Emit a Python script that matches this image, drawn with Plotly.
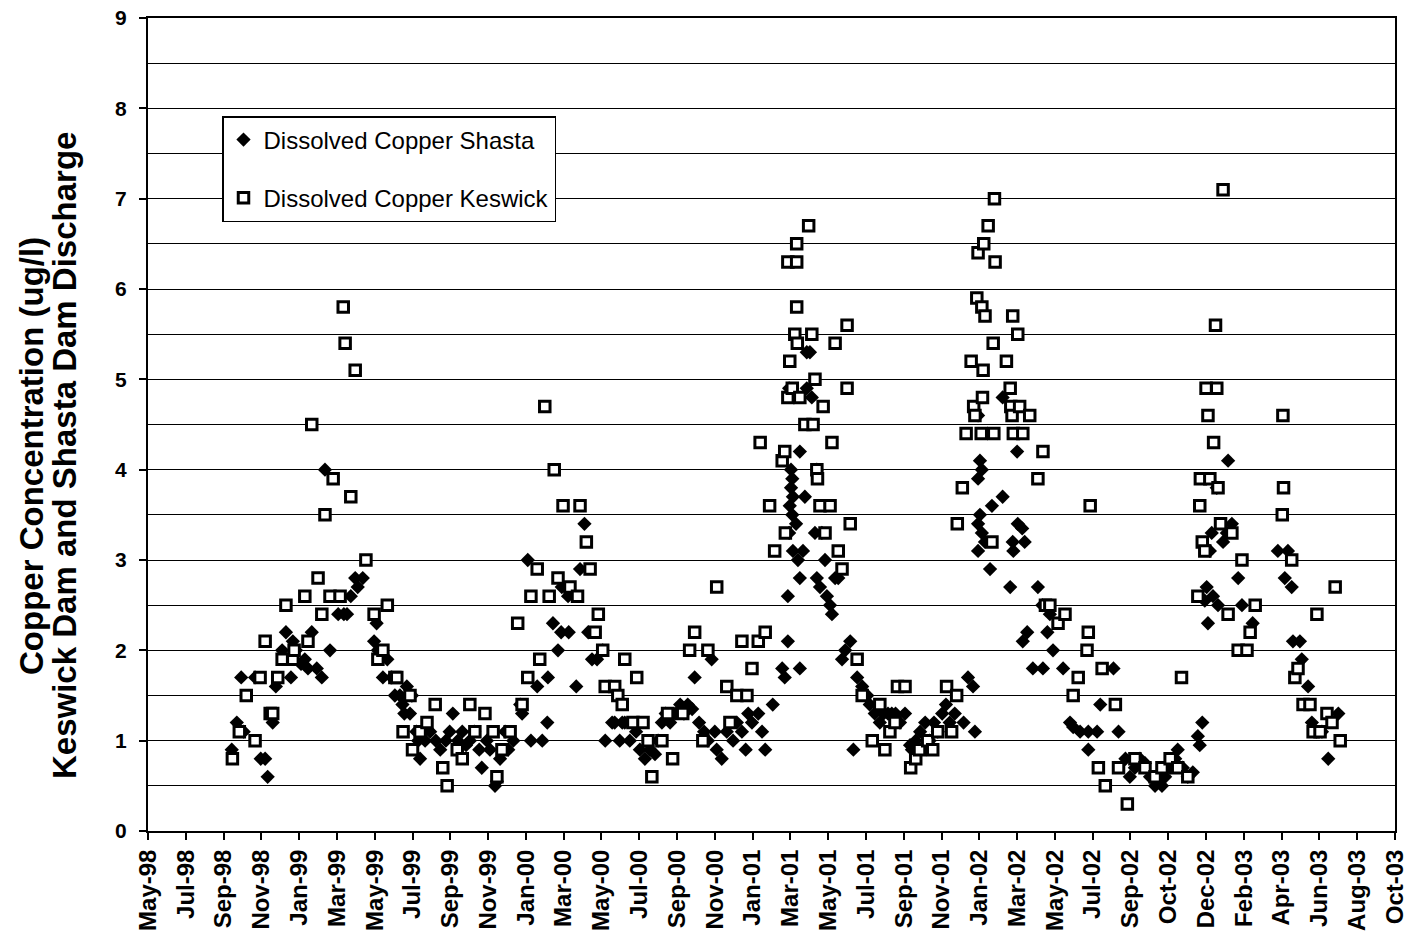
import plotly.graph_objects as go

# ---------------- data ----------------
shasta_dates = [
    "1998-10-05", "1998-10-13", "1998-10-20", "1998-10-24", "1998-11-11", "1998-11-20", "1998-11-27", "1998-12-01", "1998-12-09", "1998-12-14",
    "1998-12-24", "1998-12-30", "1999-01-07", "1999-01-10", "1999-01-15", "1999-01-23", "1999-01-29", "1999-02-03", "1999-02-09", "1999-02-17",
    "1999-02-25", "1999-03-02", "1999-03-10", "1999-03-23", "1999-04-01", "1999-04-06", "1999-04-12", "1999-04-19", "1999-04-23", "1999-05-01",
    "1999-05-19", "1999-05-23", "1999-05-25", "1999-06-02", "1999-06-09", "1999-06-16", "1999-06-21", "1999-06-29", "1999-07-03", "1999-07-06",
    "1999-07-10", "1999-07-15", "1999-07-18", "1999-07-25", "1999-07-28", "1999-07-31", "1999-08-08", "1999-08-16", "1999-08-25", "1999-09-01",
    "1999-09-10", "1999-09-16", "1999-09-21", "1999-09-29", "1999-10-06", "1999-10-12", "1999-10-18", "1999-10-25", "1999-11-02", "1999-11-06",
    "1999-11-14", "1999-11-19", "1999-11-27", "1999-11-30", "1999-12-05", "1999-12-13", "1999-12-18", "1999-12-26", "2000-01-06", "2000-01-09",
    "2000-01-18", "2000-01-23", "2000-02-02", "2000-02-10", "2000-02-18", "2000-02-19", "2000-02-27", "2000-03-06", "2000-03-11", "2000-03-12",
    "2000-03-22", "2000-03-23", "2000-04-04", "2000-04-10", "2000-04-17", "2000-04-23", "2000-04-29", "2000-05-07", "2000-05-16", "2000-05-20",
    "2000-05-31", "2000-06-04", "2000-06-12", "2000-06-16", "2000-06-20", "2000-06-28", "2000-07-08", "2000-07-14", "2000-07-22", "2000-07-30",
    "2000-08-07", "2000-08-12", "2000-08-18", "2000-08-24", "2000-08-31", "2000-09-08", "2000-09-16", "2000-09-22", "2000-09-28", "2000-10-05",
    "2000-10-09", "2000-10-16", "2000-10-24", "2000-10-30", "2000-11-05", "2000-11-10", "2000-11-13", "2000-11-21", "2000-11-29", "2000-12-09",
    "2000-12-15", "2000-12-23", "2000-12-29", "2001-01-02", "2001-01-08", "2001-01-18", "2001-01-24", "2001-01-29", "2001-02-10", "2001-02-25",
    "2001-03-01", "2001-03-06", "2001-03-06", "2001-03-08", "2001-03-08", "2001-03-09", "2001-03-11", "2001-03-11", "2001-03-13", "2001-03-13",
    "2001-03-14", "2001-03-14", "2001-03-19", "2001-03-22", "2001-03-25", "2001-03-25", "2001-03-25", "2001-03-30", "2001-04-02", "2001-04-05",
    "2001-04-05", "2001-04-10", "2001-04-13", "2001-04-18", "2001-04-21", "2001-04-21", "2001-04-26", "2001-04-29", "2001-05-04", "2001-05-07",
    "2001-05-12", "2001-05-15", "2001-05-20", "2001-05-25", "2001-05-31", "2001-06-05", "2001-06-13", "2001-06-18", "2001-06-24", "2001-07-02",
    "2001-07-10", "2001-07-14", "2001-07-22", "2001-07-30", "2001-08-05", "2001-08-12", "2001-08-18", "2001-08-24", "2001-08-31", "2001-09-08",
    "2001-09-16", "2001-09-19", "2001-09-25", "2001-10-02", "2001-10-10", "2001-10-17", "2001-10-24", "2001-10-30", "2001-11-06", "2001-11-12",
    "2001-11-18", "2001-11-26", "2001-12-10", "2001-12-17", "2001-12-25", "2001-12-28", "2002-01-02", "2002-01-02", "2002-01-02", "2002-01-02",
    "2002-01-05", "2002-01-05", "2002-01-08", "2002-01-08", "2002-01-13", "2002-01-21", "2002-01-24", "2002-02-10", "2002-02-10", "2002-02-22",
    "2002-02-26", "2002-02-27", "2002-03-05", "2002-03-06", "2002-03-13", "2002-03-14", "2002-03-17", "2002-03-21", "2002-03-30", "2002-04-07",
    "2002-04-14", "2002-04-15", "2002-04-22", "2002-04-26", "2002-05-01", "2002-05-17", "2002-05-28", "2002-06-02", "2002-06-13", "2002-06-26",
    "2002-06-26", "2002-07-10", "2002-07-15", "2002-08-05", "2002-08-13", "2002-08-24", "2002-08-31", "2002-09-08", "2002-09-16", "2002-09-24",
    "2002-10-02", "2002-10-10", "2002-10-14", "2002-10-21", "2002-10-26", "2002-11-03", "2002-11-11", "2002-11-15", "2002-11-23", "2002-12-01",
    "2002-12-09", "2002-12-17", "2002-12-20", "2002-12-24", "2002-12-28", "2002-12-31", "2003-01-02", "2003-01-05", "2003-01-08", "2003-01-10",
    "2003-01-16", "2003-01-18", "2003-01-26", "2003-02-01", "2003-02-03", "2003-02-09", "2003-02-19", "2003-02-25", "2003-03-14", "2003-04-23",
    "2003-05-04", "2003-05-09", "2003-05-15", "2003-05-17", "2003-05-28", "2003-05-31", "2003-06-10", "2003-06-16", "2003-06-23", "2003-07-02",
    "2003-07-12", "2003-07-28",
]
shasta_values = [
    0.9, 1.2, 1.7, 1.1, 1.7, 0.8, 0.8, 0.6, 1.2, 1.6,
    2.0, 2.2, 1.7, 2.1, 2.0, 1.85, 1.9, 1.8, 2.2, 1.8,
    1.7, 4.0, 2.0, 2.4, 2.4, 2.4, 2.6, 2.8, 2.7, 2.8,
    2.1, 2.3, 2.0, 1.7, 1.9, 1.7, 1.5, 1.5, 1.4, 1.3,
    1.6, 1.3, 1.5, 1.1, 1.0, 0.8, 1.0, 1.1, 1.0, 0.9,
    1.0, 1.1, 1.3, 1.0, 1.1, 0.95, 1.0, 1.1, 0.9, 0.7,
    1.0, 0.9, 0.5, 0.55, 0.8, 1.1, 0.9, 1.0, 1.4, 1.3,
    3.0, 1.0, 1.6, 1.0, 1.2, 1.7, 2.3, 2.0, 2.2, 2.7,
    2.6, 2.2, 1.6, 2.9, 3.4, 2.2, 1.9, 1.9, 2.0, 1.0,
    1.2, 1.2, 1.0, 1.2, 1.2, 1.0, 1.1, 0.9, 0.8, 0.9,
    0.85, 1.0, 1.2, 1.3, 1.2, 1.3, 1.4, 1.3, 1.4, 1.35,
    1.7, 1.2, 1.1, 1.0, 1.9, 1.1, 0.9, 0.8, 1.1, 1.0,
    1.2, 1.1, 0.9, 1.3, 1.2, 1.3, 1.1, 0.9, 1.4, 1.8,
    1.7, 2.1, 2.6, 4.9, 3.3, 3.6, 4.0, 3.8, 3.9, 3.5,
    3.7, 3.1, 3.4, 3.0, 2.8, 4.2, 1.8, 3.1, 3.7, 4.9,
    5.3, 5.3, 4.8, 3.3, 4.0, 2.8, 2.7, 3.3, 3.0, 2.6,
    2.5, 2.4, 2.8, 2.8, 1.9, 2.0, 2.1, 0.9, 1.7, 1.6,
    1.5, 1.4, 1.3, 1.2, 1.3, 1.3, 1.3, 1.3, 1.2, 1.3,
    0.95, 0.9, 1.0, 1.1, 1.2, 1.0, 1.2, 1.1, 1.3, 1.4,
    1.2, 1.3, 1.2, 1.7, 1.6, 1.1, 4.6, 3.9, 3.4, 3.1,
    4.1, 3.5, 4.0, 3.3, 3.2, 2.9, 3.6, 3.7, 4.8, 2.7,
    3.2, 3.1, 4.2, 3.4, 3.35, 2.1, 3.2, 2.2, 1.8, 2.7,
    2.5, 1.8, 2.2, 2.4, 2.0, 1.8, 1.2, 1.15, 1.1, 1.1,
    0.9, 1.1, 1.4, 1.8, 1.1, 0.8, 0.6, 0.7, 0.8, 0.75,
    0.6, 0.5, 0.55, 0.5, 0.6, 0.7, 0.8, 0.9, 0.7, 0.6,
    0.65, 1.05, 0.95, 1.2, 2.55, 2.7, 2.3, 3.1, 3.3, 2.6,
    3.8, 2.5, 3.2, 3.3, 4.1, 3.4, 2.8, 2.5, 2.3, 3.1,
    2.8, 3.1, 2.7, 2.1, 2.1, 1.9, 1.6, 1.2, 1.1, 1.1,
    0.8, 1.3,
]

keswick_dates = [
    "1998-10-06", "1998-10-17", "1998-10-28", "1998-11-11", "1998-11-19", "1998-11-27", "1998-12-05", "1998-12-09", "1998-12-17", "1998-12-24",
    "1998-12-30", "1999-01-10", "1999-01-12", "1999-01-29", "1999-02-03", "1999-02-09", "1999-02-19", "1999-02-25", "1999-03-02", "1999-03-10",
    "1999-03-15", "1999-03-26", "1999-03-31", "1999-04-03", "1999-04-12", "1999-04-19", "1999-05-06", "1999-05-19", "1999-05-25", "1999-06-02",
    "1999-06-09", "1999-06-21", "1999-06-24", "1999-07-04", "1999-07-15", "1999-07-19", "1999-07-31", "1999-08-11", "1999-08-24", "1999-09-05",
    "1999-09-12", "1999-09-28", "1999-10-06", "1999-10-18", "1999-10-26", "1999-11-11", "1999-11-24", "1999-11-30", "1999-12-08", "1999-12-21",
    "2000-01-02", "2000-01-09", "2000-01-18", "2000-01-23", "2000-02-02", "2000-02-06", "2000-02-14", "2000-02-21", "2000-02-29", "2000-03-06",
    "2000-03-14", "2000-03-25", "2000-04-06", "2000-04-10", "2000-04-20", "2000-04-26", "2000-05-04", "2000-05-09", "2000-05-16", "2000-05-20",
    "2000-06-04", "2000-06-09", "2000-06-16", "2000-06-20", "2000-07-03", "2000-07-09", "2000-07-19", "2000-07-27", "2000-08-02", "2000-08-18",
    "2000-08-27", "2000-09-04", "2000-09-20", "2000-10-01", "2000-10-09", "2000-10-22", "2000-10-30", "2000-11-13", "2000-11-29", "2000-12-04",
    "2000-12-15", "2000-12-23", "2000-12-31", "2001-01-08", "2001-01-18", "2001-01-21", "2001-01-29", "2001-02-05", "2001-02-13", "2001-02-25",
    "2001-03-01", "2001-03-02", "2001-03-06", "2001-03-06", "2001-03-09", "2001-03-13", "2001-03-17", "2001-03-20", "2001-03-20", "2001-03-20",
    "2001-03-21", "2001-03-25", "2001-04-02", "2001-04-08", "2001-04-13", "2001-04-15", "2001-04-18", "2001-04-21", "2001-04-22", "2001-04-26",
    "2001-05-01", "2001-05-04", "2001-05-12", "2001-05-15", "2001-05-20", "2001-05-25", "2001-05-31", "2001-06-08", "2001-06-08", "2001-06-13",
    "2001-06-24", "2001-07-02", "2001-07-18", "2001-07-30", "2001-08-07", "2001-08-15", "2001-08-23", "2001-08-27", "2001-09-08", "2001-09-17",
    "2001-09-25", "2001-10-01", "2001-10-14", "2001-10-22", "2001-10-30", "2001-11-13", "2001-11-21", "2001-11-29", "2001-11-30", "2001-12-08",
    "2001-12-14", "2001-12-22", "2001-12-26", "2001-12-28", "2001-12-31", "2002-01-02", "2002-01-07", "2002-01-08", "2002-01-09", "2002-01-10",
    "2002-01-11", "2002-01-13", "2002-01-18", "2002-01-24", "2002-01-26", "2002-01-27", "2002-01-28", "2002-01-29", "2002-02-16", "2002-02-22",
    "2002-02-23", "2002-02-25", "2002-02-26", "2002-02-27", "2002-03-06", "2002-03-09", "2002-03-14", "2002-03-25", "2002-04-07", "2002-04-15",
    "2002-04-19", "2002-04-26", "2002-05-09", "2002-05-20", "2002-06-02", "2002-06-10", "2002-06-24", "2002-06-26", "2002-06-29", "2002-07-12",
    "2002-07-18", "2002-07-23", "2002-08-08", "2002-08-13", "2002-08-27", "2002-09-08", "2002-09-24", "2002-10-10", "2002-10-21", "2002-11-03",
    "2002-11-15", "2002-11-21", "2002-12-01", "2002-12-17", "2002-12-20", "2002-12-21", "2002-12-24", "2002-12-28", "2002-12-30", "2003-01-02",
    "2003-01-05", "2003-01-11", "2003-01-14", "2003-01-16", "2003-01-18", "2003-01-22", "2003-01-26", "2003-02-03", "2003-02-09", "2003-02-19",
    "2003-02-25", "2003-03-05", "2003-03-10", "2003-03-18", "2003-04-30", "2003-05-01", "2003-05-02", "2003-05-15", "2003-05-20", "2003-05-25",
    "2003-06-02", "2003-06-13", "2003-06-18", "2003-06-24", "2003-06-29", "2003-07-10", "2003-07-18", "2003-07-23", "2003-07-31",
]
keswick_values = [
    0.8, 1.1, 1.5, 1.0, 1.7, 2.1, 1.3, 1.3, 1.7, 1.9,
    2.5, 1.9, 2.0, 2.6, 2.1, 4.5, 2.8, 2.4, 3.5, 2.6,
    3.9, 2.6, 5.8, 5.4, 3.7, 5.1, 3.0, 2.4, 1.9, 2.0,
    2.5, 1.7, 1.7, 1.1, 1.5, 0.9, 1.1, 1.2, 1.4, 0.7,
    0.5, 0.9, 0.8, 1.4, 1.1, 1.3, 1.1, 0.6, 0.9, 1.1,
    2.3, 1.4, 1.7, 2.6, 2.9, 1.9, 4.7, 2.6, 4.0, 2.8,
    3.6, 2.7, 2.6, 3.6, 3.2, 2.9, 2.2, 2.4, 2.0, 1.6,
    1.6, 1.5, 1.4, 1.9, 1.2, 1.7, 1.2, 1.0, 0.6, 1.0,
    1.3, 0.8, 1.3, 2.0, 2.2, 1.0, 2.0, 2.7, 1.6, 1.2,
    1.5, 2.1, 1.5, 1.8, 2.1, 4.3, 2.2, 3.6, 3.1, 4.1,
    4.2, 3.3, 4.8, 6.3, 5.2, 4.9, 5.5, 6.5, 6.3, 5.8,
    5.4, 4.8, 4.5, 6.7, 5.5, 4.5, 5.0, 4.0, 3.9, 3.6,
    4.7, 3.3, 3.6, 4.3, 5.4, 3.1, 2.9, 5.6, 4.9, 3.4,
    1.9, 1.5, 1.0, 1.4, 0.9, 1.1, 1.2, 1.6, 1.6, 0.7,
    0.8, 0.9, 1.0, 0.9, 1.1, 1.6, 1.1, 1.5, 3.4, 3.8,
    4.4, 5.2, 4.7, 4.6, 5.9, 6.4, 4.4, 5.8, 4.8, 5.1,
    6.5, 5.7, 6.7, 3.2, 5.4, 4.4, 7.0, 6.3, 5.2, 4.9,
    4.7, 4.6, 5.7, 4.4, 5.5, 4.7, 4.4, 4.6, 3.9, 4.2,
    2.5, 2.5, 2.3, 2.4, 1.5, 1.7, 2.0, 2.2, 3.6, 0.7,
    1.8, 0.5, 1.4, 0.7, 0.3, 0.8, 0.7, 0.6, 0.7, 0.8,
    0.7, 1.7, 0.6, 2.6, 3.6, 3.9, 3.2, 3.1, 4.9, 4.6,
    3.9, 4.3, 5.6, 4.9, 3.8, 3.4, 7.1, 2.4, 3.3, 2.0,
    3.0, 2.0, 2.2, 2.5, 3.5, 4.6, 3.8, 3.0, 1.7, 1.8,
    1.4, 1.4, 1.1, 2.4, 1.1, 1.3, 1.2, 2.7, 1.0,
]

series_names = ["Dissolved Copper Shasta", "Dissolved Copper Keswick"]
axis_title_lines = ["Copper Concentration (ug/l)", "Keswick Dam and Shasta Dam Discharge"]
x_start, x_end = "1998-05-25", "2003-10-26"
tick_step_days = 60
y_min, y_max = 0, 9

FONT = "Liberation Sans, Arial, sans-serif"

fig = go.Figure()
fig.add_trace(go.Scatter(
    x=shasta_dates, y=shasta_values, mode="markers", name=series_names[0],
    legendgroup="a",
    marker=dict(symbol="diamond", size=11, color="black", line=dict(width=0)),
))
fig.add_trace(go.Scatter(
    x=keswick_dates, y=keswick_values, mode="markers", name=series_names[1],
    legendgroup="b",
    marker=dict(symbol="square", size=10.5, color="white", line=dict(color="black", width=3)),
))

W, H = 1410, 939
L, R, T, B = 148, 15, 18, 108
plot_h = H - T - B

def px_to_paper_x(px):
    return (px - L) / (W - L - R)

def px_to_paper_y(py):
    return (H - B - py) / plot_h

fig.update_layout(
    width=W, height=H,
    margin=dict(l=L, r=R, t=T, b=B, pad=0, autoexpand=False),
    paper_bgcolor="white", plot_bgcolor="white",
    font=dict(family=FONT, color="black"),
    showlegend=True,
    legend=dict(
        x=px_to_paper_x(222), y=px_to_paper_y(116), xanchor="left", yanchor="top",
        bgcolor="white", bordercolor="black", borderwidth=1.5,
        font=dict(family=FONT, size=24, color="black"),
        traceorder="grouped", tracegroupgap=24,
    ),
    xaxis=dict(
        type="date", range=[x_start, x_end], automargin=False,
        tick0=x_start, dtick=tick_step_days * 86400000,
        tickformat="%b-%y", tickangle=-90,
        ticks="outside", ticklen=7, tickwidth=1.5, tickcolor="black",
        tickfont=dict(family=FONT, size=24, color="black", weight="bold"),
        showgrid=False, zeroline=False,
        showline=True, linecolor="black", linewidth=2, mirror=True,
    ),
    yaxis=dict(
        range=[y_min, y_max], dtick=1, tick0=0, automargin=False,
        ticks="outside", ticklen=7, tickwidth=1.5, tickcolor="black",
        tickfont=dict(family=FONT, size=21, color="black", weight="bold"),
        ticklabelstandoff=8,
        showgrid=True, gridcolor="black", gridwidth=1,
        minor=dict(dtick=0.5, showgrid=True, gridcolor="black", gridwidth=1, ticks=""),
        zeroline=False,
        showline=True, linecolor="black", linewidth=2, mirror=True,
    ),
)

# two-line y axis title, placed as in the reference
for line_text, cx in zip(axis_title_lines, [31, 64]):
    fig.add_annotation(
        text=line_text, textangle=-90,
        xref="paper", yref="paper",
        x=px_to_paper_x(cx), y=px_to_paper_y(456),
        xanchor="center", yanchor="middle", showarrow=False,
        font=dict(family=FONT, size=33, color="black", weight="bold"),
    )

fig.write_html("out.html")
